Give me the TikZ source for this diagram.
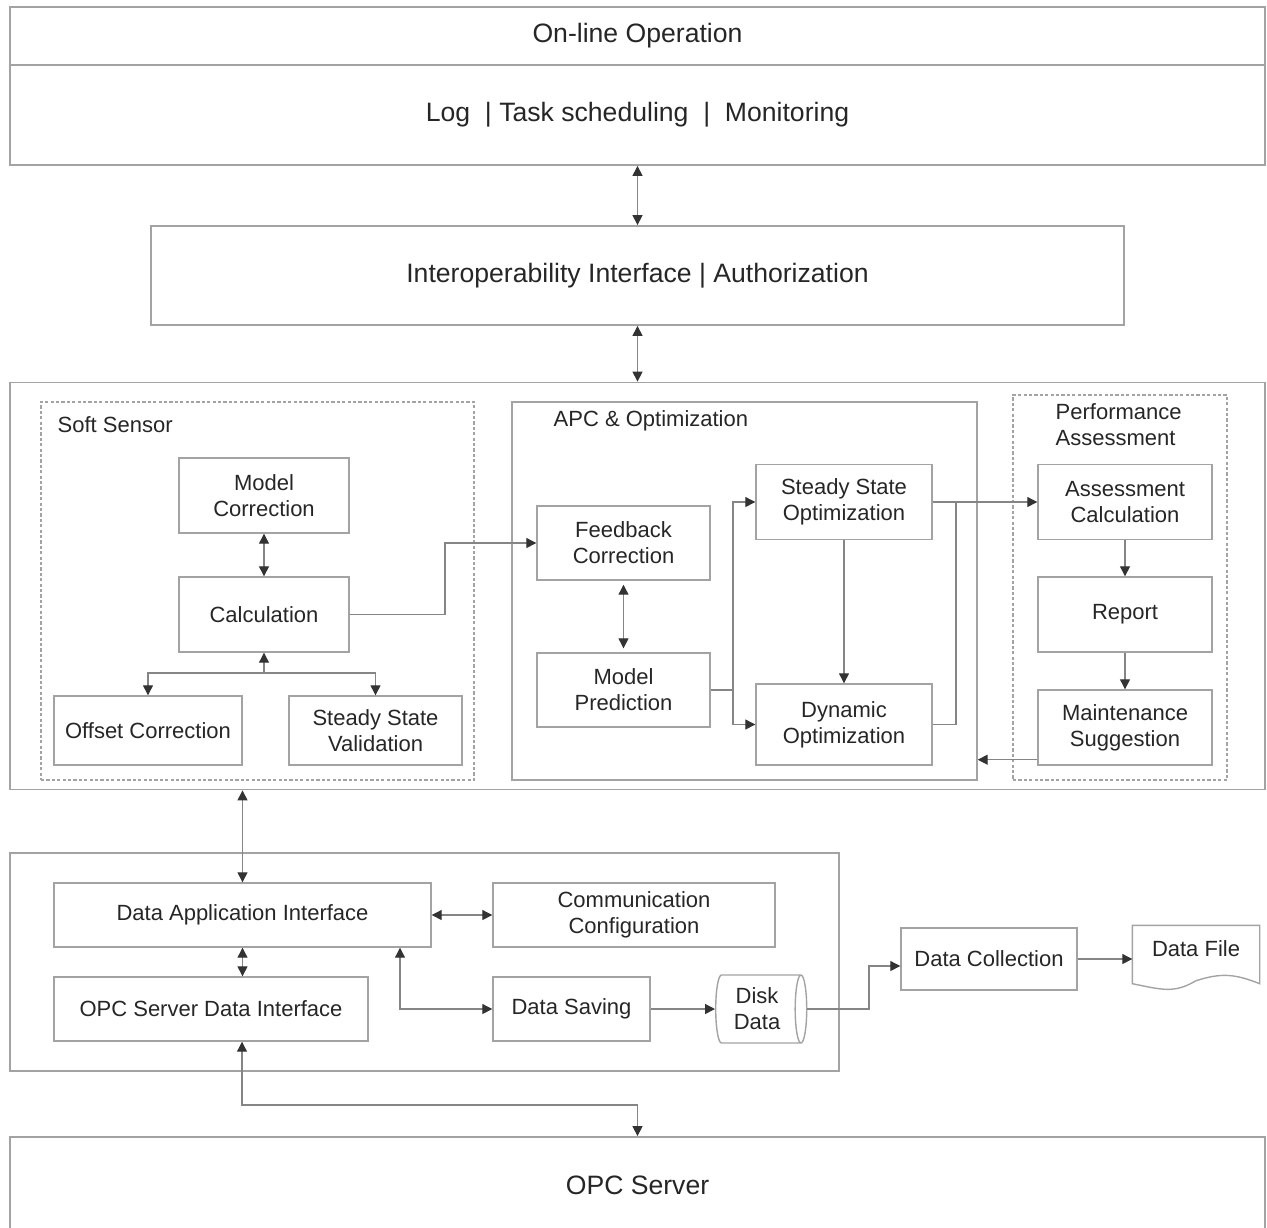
\documentclass[tikz,border=0pt]{standalone}
\usepackage{fontspec}
\setmainfont{Liberation Sans}
\usetikzlibrary{arrows.meta, positioning, shapes.geometric, calc}
\definecolor{cframe}{HTML}{A3A3A3}
\definecolor{cline}{HTML}{858585}
\definecolor{ctip}{HTML}{333333}
\definecolor{ctext}{HTML}{262626}
\tikzset{
  every picture/.style={x=0.5pt, y=-0.5pt, line width=0.7pt, >={Triangle[length=5pt, width=5pt, color=ctip]}},
  txt/.style={font=\fontsize{11}{13}\selectfont, text=ctext, align=center},
  box/.style={txt, draw=cframe, inner sep=2pt},
  layer/.style={draw=cframe, line width=0.9pt, text=ctext, minimum width=627.5pt},
  big/.style={font=\fontsize{13.3}{15}\selectfont},
  group/.style={draw=cframe, minimum height=189pt},
  dgroup/.style={group, dash pattern=on 1.6pt off 1.1pt},
  arrow/.style={->, draw=cline, line width=0.6pt},
  darrow/.style={<->, draw=cline, line width=0.6pt},
  line/.style={draw=cline, line width=0.6pt},
}

\begin{document}
\begin{tikzpicture}
  \useasboundingbox (0,0) rectangle (1267,1227);
  % top layers
  \node[layer, big, minimum height=29pt] (online) at (637.5,36) {On-line Operation};
  \node[layer, big, minimum height=50pt] (logtask) at (637.5,115) {Log\ \ | Task scheduling\ \ |\ \ Monitoring};
  \node[layer, big, minimum width=486.5pt, minimum height=49.5pt] (interop) at (637.5,275.5) {Interoperability Interface | Authorization};
  \node[layer, minimum height=203.5pt] (core) at (637.5,586) {};
  \draw[darrow] (logtask.south) -- (interop.north);
  \draw[darrow] (interop.south) -- (core.north);
  % soft sensor
  \node[dgroup, minimum width=216.5pt] (soft) at (257.5,591) {};
  \node[txt, anchor=west, inner sep=0pt] (softlbl) at (57,425) {Soft Sensor};
  \node[box, minimum width=85pt, minimum height=37.5pt] (modcorr) at (264,495.5) {Model\\Correction};
  \node[box, minimum width=85pt, minimum height=37.5pt] (calc) at (264,614.5) {Calculation};
  \node[box, minimum width=94pt, minimum height=34.5pt] (offset) at (148,730.5) {Offset Correction};
  \node[box, minimum width=86.5pt, minimum height=34.5pt] (ssval) at (375.5,730.5) {Steady State\\Validation};
  \coordinate (calcsplit) at (264,673);
  \draw[darrow] (modcorr) -- (calc);
  \draw[arrow] (calcsplit) -- (calc.south);
  \draw[arrow] (calcsplit) -| (offset.north);
  \draw[arrow] (calcsplit) -| (ssval.north);
  % APC & optimization
  \node[group, minimum width=232.5pt] (apc) at (744.5,591) {};
  \node[txt, anchor=west, inner sep=0pt] (apclbl) at (553,421) {APC \& Optimization};
  \node[box, minimum width=86.5pt, minimum height=37pt] (fbcorr) at (623.5,543) {Feedback\\Correction};
  \node[box, minimum width=86.5pt, minimum height=37pt] (modpred) at (623.5,690) {Model\\Prediction};
  \node[box, minimum width=88pt, minimum height=37.5pt] (ssopt) at (844,502) {Steady State\\Optimization};
  \node[box, minimum width=88pt, minimum height=40.5pt] (dynopt) at (844,724.5) {Dynamic\\Optimization};
  \coordinate (calcbend) at (445,614);
  \coordinate (mpbend) at (733,690);
  \coordinate (dojoin) at (956,502);
  \draw[arrow] (calc.east) -- (calc.east -| calcbend) |- (fbcorr.west);
  \draw[darrow, shorten <=2pt, shorten >=2pt] (fbcorr) -- (modpred);
  \draw[line] (modpred.east) -- (mpbend);
  \draw[arrow] (mpbend) |- (ssopt.west);
  \draw[arrow] (mpbend) |- (dynopt.west);
  \draw[arrow] (ssopt) -- (dynopt);
  \draw[line] (dynopt.east) -| (dojoin);
  % performance assessment
  \node[dgroup, minimum width=107pt, minimum height=192.5pt] (perf) at (1120,587.5) {};
  \node[txt, anchor=west, align=left, inner sep=0pt] (perflbl) at (1055,425) {Performance\\Assessment};
  \node[box, minimum width=87pt, minimum height=37.5pt] (asscalc) at (1125,502) {Assessment\\Calculation};
  \node[box, minimum width=87pt, minimum height=37.5pt] (report) at (1125,614.5) {Report};
  \node[box, minimum width=87pt, minimum height=37.5pt] (maint) at (1125,727.5) {Maintenance\\Suggestion};
  \draw[arrow] (ssopt.east) -- (asscalc.west);
  \draw[arrow] (asscalc) -- (report);
  \draw[arrow] (report) -- (maint);
  \coordinate (msout) at ([yshift=3pt]maint.south west);
  \draw[arrow] (msout) -- (msout -| apc.east);
  % data interface
  \node[layer, minimum width=414.5pt, minimum height=109pt] (dataif) at (424.5,962) {};
  \node[box, minimum width=188.5pt, minimum height=32pt] (dai) at (242.5,915) {Data Application Interface};
  \node[box, minimum width=141pt, minimum height=32pt] (comm) at (634,915) {Communication\\Configuration};
  \node[box, minimum width=157pt, minimum height=32pt] (opcsdi) at (211,1009) {OPC Server Data Interface};
  \node[box, minimum width=78.5pt, minimum height=32pt] (dsave) at (571.5,1009) {Data Saving};
  \node[txt, draw=cframe, shape=cylinder, aspect=0.25, inner sep=1pt, minimum width=34pt, minimum height=45.5pt] (disk) at (757,1009) {Disk\\Data};
  \node[box, minimum width=88pt, minimum height=31pt] (dcoll) at (989,959) {Data Collection};
  \node[minimum width=63pt, minimum height=33pt, inner sep=0pt] (dfile) at (1196,959) {};
  \node[txt] (dfiletxt) at ([yshift=5pt]dfile.center) {Data File};
  \draw[draw=cframe] (dfile.north west) -- (dfile.north east) -- ([yshift=4.5pt]dfile.south east)
    .. controls +(-25,-10) and +(25,-8) .. ([yshift=6pt]dfile.south)
    .. controls +(-22,13) and +(30,6) .. ([yshift=4.5pt]dfile.south west) -- cycle;
  \coordinate (savebend) at (400,1009);
  \coordinate (diskbend) at (869,1009);
  \coordinate (opcbend) at (242,1105);
  \draw[darrow] (dai.north |- core.south) -- (dai.north);
  \draw[darrow] (dai.east) -- (comm.west);
  \draw[darrow] (dai.south) -- (dai.south |- opcsdi.north);
  \draw[darrow] (dai.south -| savebend) -- (savebend) -- (dsave.west);
  \draw[arrow] (dsave.east) -- (disk.west);
  \draw[arrow] (disk.east) -- (disk.east -| diskbend) |- ([yshift=-3.5pt]dcoll.west);
  \draw[arrow] (dcoll.east) -- (dcoll.east -| dfile.west);
  % OPC server
  \node[layer, big, minimum height=48pt] (opcserver) at (637.5,1185) {OPC Server};
  \draw[darrow] (opcsdi.south -| opcbend) -- (opcbend) -| (opcserver.north);
\end{tikzpicture}
\end{document}
